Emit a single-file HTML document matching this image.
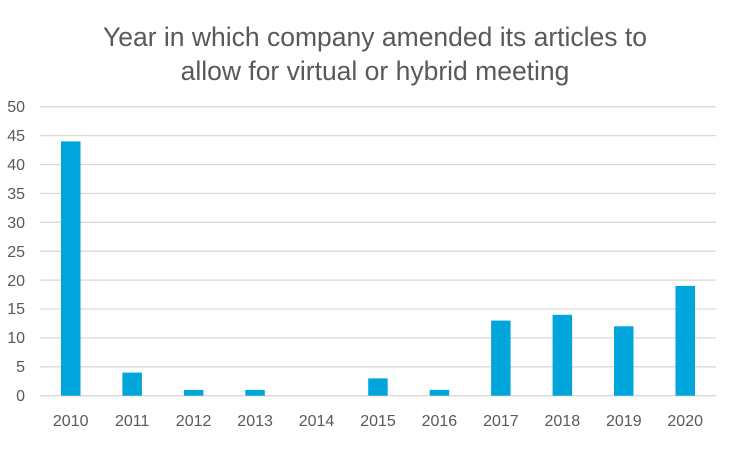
<!DOCTYPE html><html><head><style>body{margin:0;background:#fff}</style></head><body>
<svg width="750" height="450" xmlns="http://www.w3.org/2000/svg" font-family="Liberation Sans, sans-serif">
<rect width="750" height="450" fill="#fff"/>
<text x="375" y="46" text-anchor="middle" font-size="26.5" fill="#595959">Year in which company amended its articles to</text>
<text x="375" y="80" text-anchor="middle" font-size="26.5" fill="#595959">allow for virtual or hybrid meeting</text>
<g stroke="#d9d9d9" stroke-width="1.3">
<line x1="40" x2="716" y1="106.7" y2="106.7"/><line x1="40" x2="716" y1="135.6" y2="135.6"/><line x1="40" x2="716" y1="164.5" y2="164.5"/><line x1="40" x2="716" y1="193.4" y2="193.4"/><line x1="40" x2="716" y1="222.3" y2="222.3"/><line x1="40" x2="716" y1="251.2" y2="251.2"/><line x1="40" x2="716" y1="280.1" y2="280.1"/><line x1="40" x2="716" y1="309" y2="309"/><line x1="40" x2="716" y1="337.9" y2="337.9"/><line x1="40" x2="716" y1="366.8" y2="366.8"/><line x1="40" x2="716" y1="395.7" y2="395.7"/>
</g>
<g font-size="16" fill="#595959" text-anchor="end">
<text x="25" y="112">50</text><text x="25" y="141">45</text><text x="25" y="170">40</text><text x="25" y="199">35</text><text x="25" y="228">30</text><text x="25" y="257">25</text><text x="25" y="286">20</text><text x="25" y="314">15</text><text x="25" y="343">10</text><text x="25" y="372">5</text><text x="25" y="401">0</text>
</g>
<g fill="#00a5db">
<rect x="61" y="141.4" width="19.5" height="254.3"/>
<rect x="122.4" y="372.6" width="19.5" height="23.1"/>
<rect x="183.9" y="389.9" width="19.5" height="5.8"/>
<rect x="245.3" y="389.9" width="19.5" height="5.8"/>
<rect x="368.2" y="378.4" width="19.5" height="17.3"/>
<rect x="429.7" y="389.9" width="19.5" height="5.8"/>
<rect x="491.1" y="320.6" width="19.5" height="75.1"/>
<rect x="552.6" y="314.8" width="19.5" height="80.9"/>
<rect x="614" y="326.3" width="19.5" height="69.4"/>
<rect x="675.5" y="285.9" width="19.5" height="109.8"/>
</g>
<g font-size="16" fill="#595959" text-anchor="middle">
<text x="70.7" y="426">2010</text><text x="132.2" y="426">2011</text><text x="193.6" y="426">2012</text><text x="255.1" y="426">2013</text><text x="316.5" y="426">2014</text><text x="378" y="426">2015</text><text x="439.4" y="426">2016</text><text x="500.9" y="426">2017</text><text x="562.3" y="426">2018</text><text x="623.8" y="426">2019</text><text x="685.2" y="426">2020</text>
</g>
</svg></body></html>
